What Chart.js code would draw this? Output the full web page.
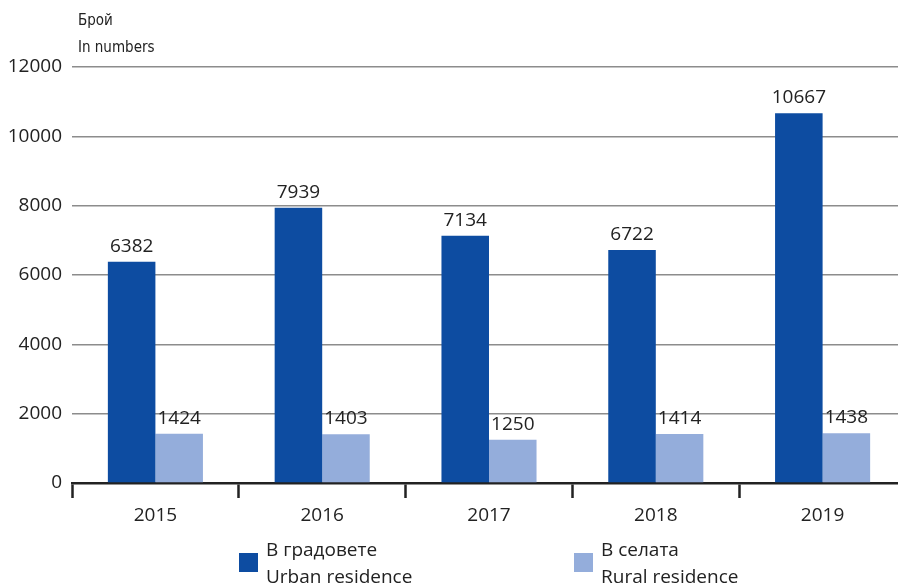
<!DOCTYPE html>
<html>
<head>
<meta charset="utf-8">
<script src="https://cdn.jsdelivr.net/npm/chart.js@4"></script>
<style>
html,body{margin:0;padding:0;background:#fff;overflow:hidden;}
canvas{display:block;}
</style>
</head>
<body>
<canvas id="c" width="906" height="586"></canvas>
<script>
const categories = ['2015', '2016', '2017', '2018', '2019'];
const urbanValues = [6382, 7939, 7134, 6722, 10667];
const ruralValues = [1424, 1403, 1250, 1414, 1438];
const seriesLabels = [['В градовете', 'Urban residence'], ['В селата', 'Rural residence']];
const titleLines = ['Брой', 'In numbers'];
const yTicks = [0, 2000, 4000, 6000, 8000, 10000, 12000];

const colors = ['#0d4ca1', '#94addb'];
const textColor = '#222222';
const mainFont = '"Open Sans", "Noto Sans", sans-serif';

const labelPlugin = {
  id: 'labels',
  afterDatasetsDraw(chart) {
    const ctx = chart.ctx;
    ctx.save();
    ctx.fillStyle = textColor;
    ctx.font = '19px ' + mainFont;
    ctx.textAlign = 'center';
    ctx.textBaseline = 'alphabetic';
    chart.data.datasets.forEach((ds, i) => {
      const meta = chart.getDatasetMeta(i);
      meta.data.forEach((el, j) => {
        ctx.fillText(String(ds.data[j]), el.x, el.y - 10);
      });
    });
    ctx.restore();
  },
  afterDraw(chart) {
    const ctx = chart.ctx;
    ctx.save();
    ctx.fillStyle = textColor;
    ctx.font = '15px "Liberation Sans Narrow", "DejaVu Sans Condensed", sans-serif';
    ctx.textAlign = 'left';
    ctx.textBaseline = 'alphabetic';
    ctx.fillText(titleLines[0], 78, 25);
    ctx.fillText(titleLines[1], 78, 52);
    const xs = [239, 574];
    ctx.font = '19px ' + mainFont;
    chart.data.datasets.forEach((ds, i) => {
      ctx.fillStyle = ds.backgroundColor;
      ctx.fillRect(xs[i], 553, 19, 19);
      ctx.fillStyle = textColor;
      ctx.fillText(seriesLabels[i][0], xs[i] + 27, 556);
      ctx.fillText(seriesLabels[i][1], xs[i] + 27, 583);
    });
    ctx.restore();
  }
};

new Chart(document.getElementById('c'), {
  type: 'bar',
  data: {
    labels: categories,
    datasets: [
      { label: seriesLabels[0].join(' / '), data: urbanValues, backgroundColor: colors[0] },
      { label: seriesLabels[1].join(' / '), data: ruralValues, backgroundColor: colors[1] }
    ]
  },
  options: {
    responsive: false,
    animation: false,
    events: [],
    layout: { padding: { top: 67, left: 0, right: 0, bottom: 0 } },
    plugins: { legend: { display: false }, tooltip: { enabled: false } },
    datasets: { bar: { categoryPercentage: 0.57, barPercentage: 1.0 } },
    scales: {
      x: {
        z: 1,
        offset: true,
        grid: { display: true, offset: true, drawOnChartArea: false, drawTicks: true, tickLength: 15, tickColor: textColor, tickWidth: 2.5 },
        border: { display: true, color: textColor, width: 2.5 },
        ticks: { color: textColor, font: { size: 19, family: mainFont }, padding: 6 },
        afterFit(scale) { scale.height = 103; }
      },
      y: {
        min: 0, max: 12000,
        afterBuildTicks(scale) { scale.ticks = yTicks.map(v => ({ value: v })); },
        grid: { color: '#8c8c8c', lineWidth: 1.5, drawTicks: false },
        border: { display: false },
        ticks: { color: textColor, font: { size: 19, family: mainFont }, padding: 10, callback: (v) => String(v) },
        afterFit(scale) { scale.width = 72; }
      }
    }
  },
  plugins: [labelPlugin]
});
</script>
</body>
</html>
